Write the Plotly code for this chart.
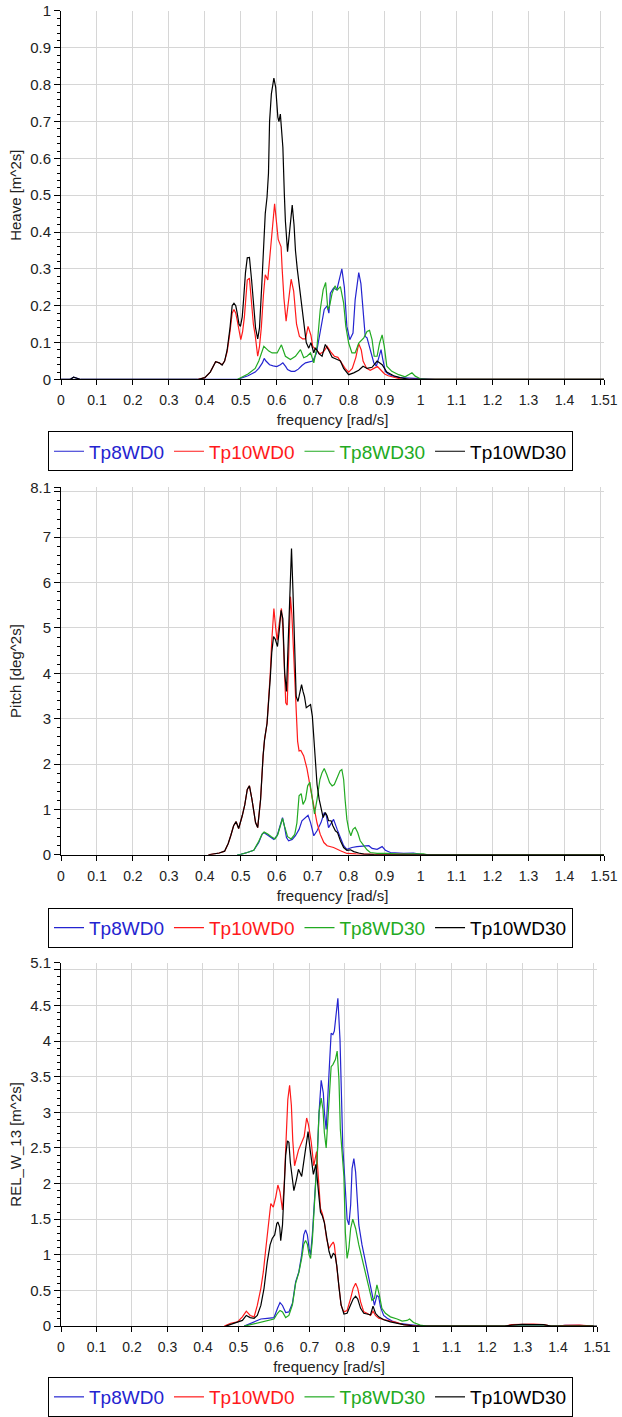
import plotly.graph_objects as go

W, H = 622, 1417

series_names = ["Tp8WD0", "Tp10WD0", "Tp8WD30", "Tp10WD30"]
series_colors = ["#2424d0", "#ff1a1a", "#22aa22", "#000000"]

x_tickvals = [0, 0.1, 0.2, 0.3, 0.4, 0.5, 0.6, 0.7, 0.8, 0.9, 1.0, 1.1, 1.2, 1.3, 1.4, 1.5, 1.51]
x_ticktext = ["0", "0.1", "0.2", "0.3", "0.4", "0.5", "0.6", "0.7", "0.8", "0.9", "1", "1.1", "1.2", "1.3", "1.4", "", "1.51"]

heave_tickvals = [0, 0.1, 0.2, 0.3, 0.4, 0.5, 0.6, 0.7, 0.8, 0.9, 1.0]
heave_ticktext = ["0", "0.1", "0.2", "0.3", "0.4", "0.5", "0.6", "0.7", "0.8", "0.9", "1"]
pitch_tickvals = [0, 1, 2, 3, 4, 5, 6, 7, 8, 8.1]
pitch_ticktext = ["0", "1", "2", "3", "4", "5", "6", "7", "", "8.1"]
rel_tickvals = [0, 0.5, 1, 1.5, 2, 2.5, 3, 3.5, 4, 4.5, 5, 5.1]
rel_ticktext = ["0", "0.5", "1", "1.5", "2", "2.5", "3", "3.5", "4", "4.5", "", "5.1"]

# ---------------- Heave ----------------
heave_f_tp8wd0 = [0, 0.025, 0.035, 0.045, 0.055, 0.49, 0.5, 0.52, 0.54, 0.55, 0.56, 0.565, 0.57, 0.58, 0.59, 0.6,
                  0.61, 0.617, 0.625, 0.63, 0.64, 0.65, 0.66, 0.67, 0.68, 0.69, 0.7, 0.71, 0.72, 0.732, 0.74,
                  0.745, 0.749, 0.758, 0.767, 0.775, 0.781, 0.788, 0.795, 0.803, 0.812, 0.818, 0.828, 0.834,
                  0.842, 0.846, 0.851, 0.86, 0.87, 0.877, 0.883, 0.89, 0.895, 0.902, 0.91, 0.92, 0.94, 0.96,
                  0.98, 1.0, 1.03, 1.04, 1.51]
heave_v_tp8wd0 = [0, 0, 0.006, 0.004, 0, 0, 0.003, 0.01, 0.02, 0.03, 0.045, 0.057, 0.05, 0.04, 0.037, 0.035,
                  0.04, 0.045, 0.035, 0.027, 0.022, 0.022, 0.028, 0.038, 0.045, 0.047, 0.05, 0.07, 0.12, 0.19,
                  0.2, 0.18, 0.234, 0.248, 0.243, 0.28, 0.3, 0.25, 0.144, 0.108, 0.126, 0.216, 0.29, 0.26,
                  0.17, 0.117, 0.113, 0.08, 0.045, 0.036, 0.054, 0.081, 0.054, 0.022, 0.015, 0.01, 0.005,
                  0.004, 0.003, 0.002, 0.001, 0, 0]

heave_f_tp10wd0 = [0.38, 0.4, 0.415, 0.43, 0.44, 0.448, 0.455, 0.462, 0.47, 0.476, 0.481, 0.486, 0.49, 0.495,
                   0.5, 0.505, 0.51, 0.514, 0.518, 0.524, 0.53, 0.535, 0.54, 0.547, 0.552, 0.557, 0.563,
                   0.568, 0.575, 0.582, 0.587, 0.594, 0.6, 0.604, 0.608, 0.612, 0.615, 0.62, 0.626, 0.632,
                   0.636, 0.64, 0.647, 0.655, 0.663, 0.672, 0.68, 0.687, 0.695, 0.7, 0.71, 0.72, 0.73, 0.74,
                   0.75, 0.76, 0.77, 0.78, 0.79, 0.8, 0.81, 0.82, 0.828, 0.835, 0.84, 0.85, 0.86, 0.87, 0.88,
                   0.89, 0.9, 0.91, 0.93, 0.95, 1.51]
heave_v_tp10wd0 = [0, 0.005, 0.02, 0.048, 0.045, 0.04, 0.05, 0.075, 0.13, 0.18, 0.19, 0.18, 0.16, 0.13,
                   0.108, 0.13, 0.17, 0.22, 0.27, 0.275, 0.2, 0.15, 0.12, 0.063, 0.09, 0.14, 0.23, 0.284,
                   0.27, 0.35, 0.42, 0.477, 0.42, 0.38, 0.37, 0.36, 0.3, 0.22, 0.158, 0.2, 0.24, 0.272, 0.24,
                   0.15, 0.117, 0.11, 0.11, 0.144, 0.12, 0.09, 0.08, 0.07, 0.075, 0.09, 0.075, 0.063, 0.06,
                   0.045, 0.03, 0.02, 0.03, 0.06, 0.097, 0.08, 0.05, 0.03, 0.025, 0.03, 0.035, 0.025, 0.015,
                   0.01, 0.005, 0, 0]

heave_f_tp8wd30 = [0.49, 0.5, 0.52, 0.54, 0.55, 0.564, 0.578, 0.587, 0.601, 0.613, 0.624, 0.638, 0.652, 0.666,
                   0.675, 0.684, 0.694, 0.703, 0.712, 0.721, 0.729, 0.736, 0.742, 0.747, 0.754, 0.762, 0.768,
                   0.777, 0.786, 0.792, 0.8, 0.809, 0.818, 0.828, 0.842, 0.851, 0.858, 0.865, 0.871, 0.879,
                   0.886, 0.893, 0.899, 0.906, 0.92, 0.939, 0.957, 0.976, 0.985, 0.999, 1.02, 1.51]
heave_v_tp8wd30 = [0, 0.005, 0.015, 0.03, 0.05, 0.09, 0.077, 0.072, 0.072, 0.094, 0.063, 0.054, 0.063, 0.081,
                   0.059, 0.063, 0.072, 0.045, 0.09, 0.19, 0.243, 0.263, 0.19, 0.2, 0.234, 0.254, 0.243,
                   0.252, 0.207, 0.144, 0.099, 0.072, 0.072, 0.099, 0.113, 0.13, 0.133, 0.108, 0.063, 0.063,
                   0.099, 0.121, 0.09, 0.036, 0.022, 0.013, 0.007, 0.018, 0.009, 0.002, 0, 0]

heave_f_tp10wd30 = [0, 0.025, 0.035, 0.045, 0.055, 0.38, 0.4, 0.415, 0.43, 0.44, 0.448, 0.455, 0.462, 0.47,
                    0.476, 0.481, 0.486, 0.49, 0.495, 0.499, 0.504, 0.508, 0.513, 0.518, 0.524, 0.53, 0.536,
                    0.541, 0.547, 0.552, 0.558, 0.564, 0.568, 0.573, 0.577, 0.58, 0.585, 0.592, 0.597, 0.603,
                    0.606, 0.61, 0.614, 0.617, 0.621, 0.624, 0.63, 0.636, 0.643, 0.648, 0.652, 0.657, 0.661,
                    0.666, 0.67, 0.677, 0.682, 0.689, 0.695, 0.703, 0.707, 0.712, 0.717, 0.726, 0.735, 0.744,
                    0.754, 0.768, 0.777, 0.786, 0.8, 0.814, 0.828, 0.84, 0.851, 0.865, 0.879, 0.893, 0.906,
                    0.925, 0.943, 0.97, 1.0, 1.51]
heave_v_tp10wd30 = [0, 0, 0.006, 0.004, 0, 0, 0.005, 0.02, 0.048, 0.045, 0.039, 0.05, 0.08, 0.14, 0.2, 0.207,
                    0.2, 0.18, 0.15, 0.144, 0.17, 0.22, 0.29, 0.33, 0.331, 0.27, 0.19, 0.14, 0.11, 0.14, 0.25,
                    0.4, 0.45, 0.495, 0.56, 0.7, 0.775, 0.818, 0.793, 0.712, 0.70, 0.72, 0.68, 0.63, 0.505,
                    0.43, 0.347, 0.4, 0.473, 0.42, 0.35, 0.3, 0.27, 0.23, 0.2, 0.15, 0.1, 0.085, 0.1, 0.072,
                    0.085, 0.08, 0.07, 0.063, 0.095, 0.08, 0.06, 0.054, 0.05, 0.03, 0.013, 0.018, 0.025, 0.036,
                    0.03, 0.033, 0.05, 0.04, 0.02, 0.01, 0.005, 0, 0, 0]

# ---------------- Pitch ----------------
pitch_f_tp8wd0 = [0.49, 0.5, 0.518, 0.536, 0.55, 0.559, 0.564, 0.573, 0.582, 0.592, 0.601, 0.61, 0.616, 0.621,
                  0.627, 0.633, 0.643, 0.652, 0.662, 0.67, 0.68, 0.687, 0.694, 0.703, 0.712, 0.723, 0.732,
                  0.738, 0.744, 0.754, 0.758, 0.768, 0.777, 0.786, 0.795, 0.809, 0.823, 0.842, 0.856, 0.865,
                  0.879, 0.893, 0.902, 0.916, 0.934, 0.953, 0.98, 0.999, 1.01, 1.51]
pitch_v_tp8wd0 = [0, 0.01, 0.05, 0.1, 0.27, 0.45, 0.49, 0.44, 0.38, 0.34, 0.42, 0.64, 0.82, 0.64, 0.38, 0.31,
                  0.34, 0.42, 0.56, 0.75, 0.82, 0.87, 0.71, 0.42, 0.53, 0.71, 0.93, 0.86, 0.6, 0.75, 0.78,
                  0.56, 0.38, 0.2, 0.12, 0.16, 0.18, 0.2, 0.2, 0.14, 0.12, 0.18, 0.1, 0.05, 0.04, 0.03, 0.04,
                  0.015, 0, 0]

pitch_f_tp10wd0 = [0.41, 0.42, 0.44, 0.455, 0.465, 0.472, 0.48, 0.487, 0.494, 0.504, 0.511, 0.518, 0.524,
                   0.531, 0.541, 0.547, 0.555, 0.562, 0.566, 0.573, 0.578, 0.582, 0.586, 0.592, 0.597, 0.601,
                   0.607, 0.613, 0.617, 0.621, 0.625, 0.629, 0.634, 0.638, 0.642, 0.647, 0.652, 0.655, 0.658,
                   0.662, 0.667, 0.675, 0.684, 0.693, 0.703, 0.712, 0.721, 0.731, 0.74, 0.758, 0.777, 0.795,
                   0.82, 0.85, 0.9, 0.93, 0.95, 0.97, 1.0, 1.51]
pitch_v_tp10wd0 = [0, 0.01, 0.04, 0.08, 0.25, 0.42, 0.64, 0.73, 0.58, 0.86, 1.1, 1.44, 1.52, 1.22, 0.71, 0.6,
                   1.22, 2.18, 2.54, 2.9, 3.4, 4.0, 4.7, 5.43, 5.0, 4.73, 5.1, 5.43, 5.0, 4.0, 3.35, 3.3, 4.6,
                   5.69, 5.3, 4.51, 3.49, 3.1, 2.5, 2.29, 2.3, 2.18, 1.9, 1.5, 1.1, 0.7, 0.45, 0.27, 0.2, 0.16,
                   0.09, 0.03, 0.02, 0.01, 0.005, 0.015, 0.02, 0.01, 0, 0]

pitch_f_tp8wd30 = [0.49, 0.5, 0.518, 0.536, 0.55, 0.559, 0.565, 0.575, 0.585, 0.595, 0.603, 0.61, 0.616, 0.622,
                   0.63, 0.64, 0.65, 0.656, 0.662, 0.668, 0.673, 0.68, 0.686, 0.692, 0.699, 0.705, 0.712,
                   0.72, 0.726, 0.732, 0.739, 0.747, 0.754, 0.76, 0.768, 0.776, 0.781, 0.786, 0.79, 0.795,
                   0.8, 0.806, 0.812, 0.818, 0.825, 0.832, 0.842, 0.851, 0.86, 0.879, 0.907, 0.944, 0.98,
                   1.008, 1.02, 1.51]
pitch_v_tp8wd30 = [0, 0.01, 0.05, 0.1, 0.3, 0.45, 0.5, 0.46, 0.4, 0.35, 0.45, 0.65, 0.8, 0.62, 0.4, 0.35,
                   0.45, 0.7, 1.3, 1.35, 1.11, 1.22, 1.52, 1.6, 1.22, 0.9, 1.22, 1.66, 1.81, 1.9, 1.77, 1.59,
                   1.52, 1.55, 1.7, 1.85, 1.88, 1.66, 1.22, 0.78, 0.56, 0.42, 0.56, 0.6, 0.49, 0.31, 0.2, 0.11,
                   0.05, 0.03, 0.03, 0.015, 0.02, 0.02, 0, 0]

pitch_f_tp10wd30 = [0.41, 0.42, 0.44, 0.455, 0.465, 0.472, 0.48, 0.487, 0.494, 0.504, 0.511, 0.518, 0.524,
                    0.531, 0.541, 0.547, 0.555, 0.562, 0.566, 0.573, 0.578, 0.582, 0.586, 0.591, 0.596, 0.602,
                    0.607, 0.612, 0.617, 0.622, 0.627, 0.631, 0.636, 0.641, 0.645, 0.65, 0.654, 0.659, 0.664,
                    0.669, 0.673, 0.677, 0.682, 0.688, 0.694, 0.699, 0.703, 0.707, 0.712, 0.718, 0.723, 0.729,
                    0.735, 0.74, 0.744, 0.751, 0.756, 0.763, 0.769, 0.777, 0.786, 0.795, 0.805, 0.814, 0.828,
                    0.842, 0.87, 0.9, 1.51]
pitch_v_tp10wd30 = [0, 0.01, 0.04, 0.08, 0.25, 0.42, 0.64, 0.73, 0.58, 0.86, 1.1, 1.44, 1.52, 1.22, 0.71, 0.6,
                    1.22, 2.18, 2.54, 2.9, 3.4, 3.9, 4.45, 4.81, 4.75, 4.59, 4.95, 5.39, 5.2, 4.0, 3.6, 4.5,
                    5.9, 6.75, 5.83, 4.37, 3.49, 3.38, 3.57, 3.75, 3.6, 3.49, 3.24, 3.27, 3.31, 3.05, 2.54,
                    1.96, 1.55, 1.22, 1.0, 0.82, 0.93, 0.86, 0.75, 0.75, 0.64, 0.53, 0.49, 0.31, 0.16, 0.1,
                    0.11, 0.07, 0.04, 0.015, 0.005, 0, 0]

# ---------------- REL_W_13 ----------------
rel_f_tp8wd0 = [0.516, 0.544, 0.563, 0.581, 0.6, 0.61, 0.617, 0.624, 0.633, 0.642, 0.652, 0.661, 0.67, 0.678,
                0.684, 0.689, 0.694, 0.699, 0.703, 0.708, 0.713, 0.717, 0.722, 0.727, 0.733, 0.739, 0.742,
                0.747, 0.751, 0.756, 0.761, 0.766, 0.77, 0.775, 0.78, 0.786, 0.79, 0.794, 0.799, 0.803, 0.806,
                0.811, 0.816, 0.82, 0.825, 0.83, 0.834, 0.839, 0.848, 0.858, 0.867, 0.876, 0.883, 0.89, 0.895,
                0.9, 0.909, 0.919, 0.933, 0.951, 0.975, 0.993, 1.0, 1.02, 1.4, 1.42, 1.46, 1.49, 1.5]
rel_v_tp8wd0 = [0, 0.06, 0.1, 0.11, 0.12, 0.25, 0.33, 0.29, 0.19, 0.2, 0.32, 0.62, 0.76, 1.0, 1.28, 1.35, 1.28,
                1.09, 1.0, 1.28, 1.65, 2.02, 2.4, 3.0, 3.45, 3.27, 3.0, 2.76, 3.08, 3.64, 4.11, 4.09, 4.14,
                4.39, 4.6, 4.02, 3.2, 2.5, 2.1, 1.79, 1.5, 1.42, 1.7, 2.21, 2.35, 2.16, 1.79, 1.42, 1.14, 0.9,
                0.67, 0.43, 0.29, 0.43, 0.41, 0.27, 0.15, 0.11, 0.07, 0.04, 0.02, 0.015, 0.01, 0, 0, 0.01,
                0.01, 0.01, 0]

rel_f_tp10wd0 = [0.46, 0.478, 0.497, 0.511, 0.522, 0.533, 0.544, 0.553, 0.563, 0.57, 0.577, 0.584, 0.591,
                 0.598, 0.605, 0.611, 0.617, 0.624, 0.629, 0.634, 0.639, 0.644, 0.649, 0.653, 0.658, 0.669,
                 0.678, 0.685, 0.692, 0.697, 0.705, 0.712, 0.72, 0.727, 0.731, 0.736, 0.742, 0.748, 0.755,
                 0.761, 0.767, 0.77, 0.776, 0.783, 0.789, 0.797, 0.806, 0.816, 0.823, 0.83, 0.836, 0.844,
                 0.853, 0.862, 0.872, 0.879, 0.886, 0.895, 0.909, 0.928, 0.947, 0.965, 0.984, 1.0, 1.25,
                 1.27, 1.3, 1.33, 1.36, 1.38, 1.4, 1.42, 1.46, 1.49, 1.5]
rel_v_tp10wd0 = [0, 0.04, 0.06, 0.13, 0.21, 0.15, 0.13, 0.29, 0.53, 0.76, 1.09, 1.42, 1.72, 1.67, 1.81, 1.98,
                 1.88, 1.63, 2.0, 2.6, 3.18, 3.38, 3.1, 2.6, 2.25, 2.47, 2.58, 2.66, 2.92, 2.83, 2.58, 2.25,
                 2.45, 2.0, 1.65, 1.58, 1.46, 1.23, 1.09, 1.14, 1.18, 1.14, 0.86, 0.53, 0.29, 0.2, 0.22, 0.39,
                 0.53, 0.6, 0.53, 0.34, 0.2, 0.18, 0.15, 0.21, 0.15, 0.11, 0.09, 0.07, 0.05, 0.02, 0.01, 0, 0,
                 0.02, 0.025, 0.03, 0.02, 0, 0, 0.01, 0.015, 0.01, 0]

rel_f_tp8wd30 = [0.516, 0.544, 0.563, 0.6, 0.61, 0.617, 0.624, 0.633, 0.642, 0.652, 0.661, 0.67, 0.678, 0.684,
                 0.689, 0.694, 0.699, 0.703, 0.708, 0.713, 0.717, 0.722, 0.727, 0.733, 0.738, 0.742, 0.747,
                 0.751, 0.756, 0.761, 0.766, 0.773, 0.778, 0.783, 0.787, 0.792, 0.797, 0.801, 0.806, 0.811,
                 0.816, 0.822, 0.83, 0.839, 0.848, 0.858, 0.867, 0.876, 0.883, 0.89, 0.897, 0.904, 0.914,
                 0.928, 0.947, 0.961, 0.975, 0.982, 0.993, 1.012, 1.03, 1.4, 1.42, 1.46, 1.49, 1.5]
rel_v_tp8wd30 = [0, 0.03, 0.06, 0.1, 0.18, 0.22, 0.2, 0.12, 0.15, 0.3, 0.6, 0.75, 0.95, 1.15, 1.2, 1.15, 1.0,
                 0.95, 1.2, 1.6, 2.0, 2.4, 3.0, 3.2, 3.04, 2.71, 2.5, 2.85, 3.36, 3.64, 3.67, 3.74, 3.86, 3.46,
                 2.76, 2.43, 2.1, 1.32, 0.95, 1.09, 1.37, 1.5, 1.37, 1.14, 0.95, 0.76, 0.57, 0.36, 0.39, 0.58,
                 0.43, 0.25, 0.18, 0.13, 0.1, 0.07, 0.08, 0.1, 0.05, 0.015, 0, 0, 0.01, 0.01, 0.01, 0]

rel_f_tp10wd30 = [0.464, 0.488, 0.502, 0.511, 0.522, 0.533, 0.544, 0.553, 0.563, 0.572, 0.581, 0.589, 0.595,
                  0.602, 0.608, 0.611, 0.616, 0.619, 0.624, 0.628, 0.633, 0.638, 0.642, 0.646, 0.651, 0.656,
                  0.663, 0.669, 0.678, 0.687, 0.696, 0.702, 0.711, 0.718, 0.722, 0.727, 0.731, 0.736, 0.742,
                  0.748, 0.755, 0.761, 0.767, 0.772, 0.777, 0.783, 0.789, 0.797, 0.806, 0.816, 0.823, 0.83,
                  0.836, 0.844, 0.853, 0.862, 0.872, 0.879, 0.886, 0.895, 0.909, 0.928, 0.947, 0.965, 0.99,
                  1.25, 1.27, 1.3, 1.33, 1.36, 1.38, 1.51]
rel_v_tp10wd30 = [0, 0.04, 0.06, 0.08, 0.15, 0.12, 0.11, 0.15, 0.29, 0.53, 0.9, 1.14, 1.23, 1.28, 1.44, 1.46,
                  1.39, 1.2, 1.42, 1.93, 2.4, 2.6, 2.58, 2.3, 2.05, 1.9, 2.05, 2.2, 2.1, 2.4, 2.73, 2.47, 2.13,
                  2.27, 2.0, 1.8, 1.6, 1.55, 1.45, 1.25, 1.05, 0.95, 1.02, 1.0, 0.85, 0.55, 0.3, 0.17, 0.18,
                  0.3, 0.38, 0.42, 0.38, 0.25, 0.18, 0.17, 0.16, 0.28, 0.18, 0.13, 0.09, 0.06, 0.04, 0.02,
                  0.005, 0, 0.015, 0.025, 0.02, 0.02, 0, 0]

panels = [
    ("Heave [m^2s]", [(heave_f_tp8wd0, heave_v_tp8wd0), (heave_f_tp10wd0, heave_v_tp10wd0),
                      (heave_f_tp8wd30, heave_v_tp8wd30), (heave_f_tp10wd30, heave_v_tp10wd30)],
     [0, 1.0], heave_tickvals, heave_ticktext, 0.02),
    ("Pitch [deg^2s]", [(pitch_f_tp8wd0, pitch_v_tp8wd0), (pitch_f_tp10wd0, pitch_v_tp10wd0),
                        (pitch_f_tp8wd30, pitch_v_tp8wd30), (pitch_f_tp10wd30, pitch_v_tp10wd30)],
     [0, 8.1], pitch_tickvals, pitch_ticktext, 0.2),
    ("REL_W_13 [m^2s]", [(rel_f_tp8wd0, rel_v_tp8wd0), (rel_f_tp10wd0, rel_v_tp10wd0),
                         (rel_f_tp8wd30, rel_v_tp8wd30), (rel_f_tp10wd30, rel_v_tp10wd30)],
     [0, 5.1], rel_tickvals, rel_ticktext, 0.1),
]

# layout geometry (pixels)
plot_left = 61
plot_right = [604, 604, 597]
plot_top = [11, 488, 964]
plot_bottom = [380, 856, 1328]
legend_left = 48
legend_top = [432, 909, 1379]

FONT = "Liberation Sans, Arial, sans-serif"
fig = go.Figure()
layout = dict(width=W, height=H, margin=dict(l=0, r=0, t=0, b=0), paper_bgcolor="white",
              plot_bgcolor="white", font=dict(family=FONT, color="#222222"), showlegend=True)

for i, (ytitle, data, yrange, ytv, ytt, ydminor) in enumerate(panels):
    k = "" if i == 0 else str(i + 1)
    leg = "legend" if i == 0 else "legend" + str(i + 1)
    for j, (f, v) in enumerate(data):
        fig.add_trace(go.Scatter(
            x=f, y=v, mode="lines", xaxis="x" + k, yaxis="y" + k, legend=leg,
            line=dict(color=series_colors[j], width=1.2),
            name='<span style="color:%s">%s</span>' % (series_colors[j], series_names[j]),
            hoverinfo="skip"))
    layout["xaxis" + k] = dict(
        domain=[plot_left / W, plot_right[i] / W], anchor="y" + k, range=[0, 1.51],
        tickmode="array", tickvals=x_tickvals, ticktext=x_ticktext,
        showgrid=True, gridcolor="#d6d6d6", gridwidth=1, zeroline=False,
        showline=True, linecolor="black", linewidth=1, ticks="outside", ticklen=5, tickcolor="black",
        tickfont=dict(size=14, color="#222222"), ticklabelstandoff=3, automargin=False,
        title=dict(text="frequency [rad/s]", font=dict(size=15, color="#222222"), standoff=7))
    layout["yaxis" + k] = dict(
        domain=[1 - plot_bottom[i] / H, 1 - plot_top[i] / H], anchor="x" + k, range=yrange,
        tickmode="array", tickvals=ytv, ticktext=ytt,
        showgrid=True, gridcolor="#d6d6d6", gridwidth=1, zeroline=False,
        showline=True, linecolor="black", linewidth=1, ticks="outside", ticklen=6, tickcolor="black",
        minor=dict(ticks="outside", ticklen=3, tickcolor="black", dtick=ydminor, tick0=0, showgrid=False),
        tickfont=dict(size=15, color="#222222"), automargin=False,
        title=dict(text=ytitle, font=dict(size=15, color="#222222"), standoff=4))
    layout[leg] = dict(
        x=legend_left / W, y=1 - legend_top[i] / H, xanchor="left", yanchor="top",
        orientation="h", bgcolor="white", bordercolor="black", borderwidth=1,
        font=dict(size=19, family=FONT), itemwidth=30, tracegroupgap=0,
        itemclick=False, itemdoubleclick=False)

fig.update_layout(**layout)
fig.write_html("out.html", config={"displayModeBar": False, "staticPlot": True},
               post_script="document.body.style.margin='0px';document.body.style.overflow='hidden';")
